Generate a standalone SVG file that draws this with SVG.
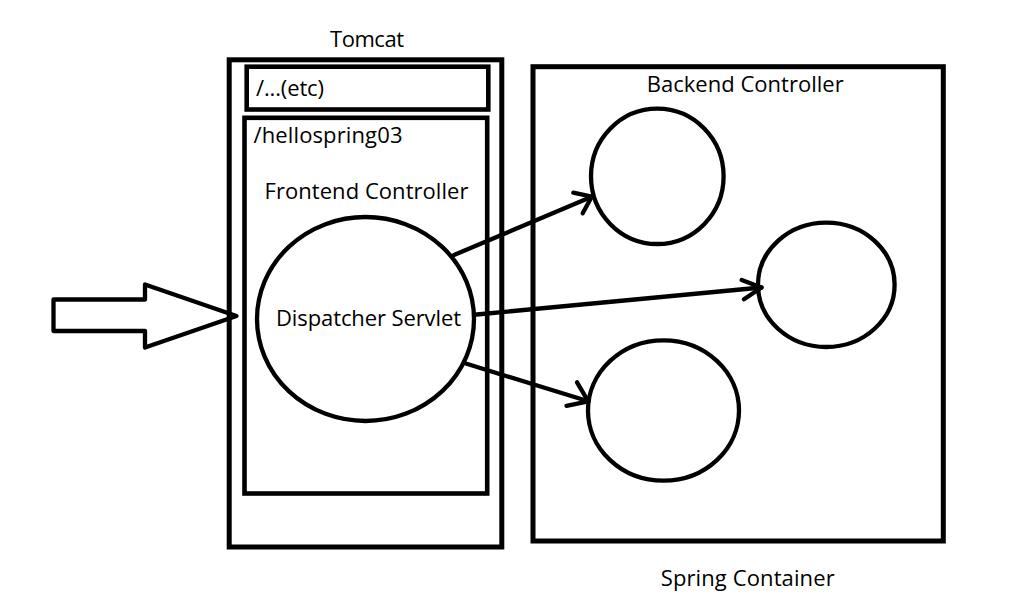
<svg xmlns="http://www.w3.org/2000/svg" width="1011" height="610" viewBox="0 0 1011 610">
<style>
.box{fill:none;stroke:#000;stroke-width:5}
.node{fill:none;stroke:#000;stroke-width:4.3}
.edge{fill:none;stroke:#000;stroke-width:4.3;stroke-linecap:round;stroke-linejoin:round}
.lbl{font-family:"Open Sans","Noto Sans","Liberation Sans",sans-serif;font-size:22px;fill:#000}
</style>
<rect width="1011" height="610" fill="#fff"/>
<g id="tomcat">
<rect class="box" x="229.2" y="59.8" width="272.6" height="487.2"/>
<text class="lbl" x="330" y="46.7" textLength="74" lengthAdjust="spacing">Tomcat</text>
</g>
<g id="etc">
<rect class="box" x="246.7" y="66.7" width="241.6" height="42.8" style="stroke-width:4.6"/>
<text class="lbl" x="256" y="96" textLength="68" lengthAdjust="spacing">/...(etc)</text>
</g>
<g id="hellospring03">
<rect class="box" x="244.5" y="117.8" width="242.7" height="375.7" style="stroke-width:4.6"/>
<text class="lbl" x="253.5" y="143.3" textLength="149" lengthAdjust="spacing">/hellospring03</text>
<text class="lbl" x="264.5" y="199" textLength="204" lengthAdjust="spacing">Frontend Controller</text>
</g>
<g id="dispatcher">
<ellipse class="node" cx="365.5" cy="319" rx="108.5" ry="102"/>
<text class="lbl" x="276" y="325.7" textLength="185" lengthAdjust="spacing">Dispatcher Servlet</text>
</g>
<g id="spring-container">
<rect class="box" x="533" y="66.7" width="410.3" height="474.3"/>
<text class="lbl" x="646.7" y="91.7" textLength="197" lengthAdjust="spacing">Backend Controller</text>
<text class="lbl" x="660.7" y="585.7" textLength="174" lengthAdjust="spacing">Spring Container</text>
</g>
<g id="controller-1"><ellipse class="node" cx="657.3" cy="176.3" rx="66.3" ry="67.7"/></g>
<g id="controller-2"><ellipse class="node" cx="826.3" cy="284.8" rx="68.3" ry="62.2"/></g>
<g id="controller-3"><ellipse class="node" cx="663.5" cy="410.5" rx="75.5" ry="70.2"/></g>
<g id="request-arrow">
<polygon class="edge" points="53.5,299.5 145,299.5 145,284.5 236.5,316 145,347.5 145,331 53.5,331"/>
</g>
<g id="connectors">
<line class="edge" x1="454" y1="255" x2="591.7" y2="196.7"/>
<polyline class="edge" points="573.3,192.7 591.7,196.7 582.7,213.3"/>
<line class="edge" x1="476.7" y1="314.5" x2="761.5" y2="287.5"/>
<polyline class="edge" points="741.7,280 761.5,287.5 744,299.3"/>
<line class="edge" x1="465" y1="363.3" x2="588.3" y2="401.3"/>
<polyline class="edge" points="577,382.3 588.3,401.3 566.5,405.8"/>
</g>
</svg>
